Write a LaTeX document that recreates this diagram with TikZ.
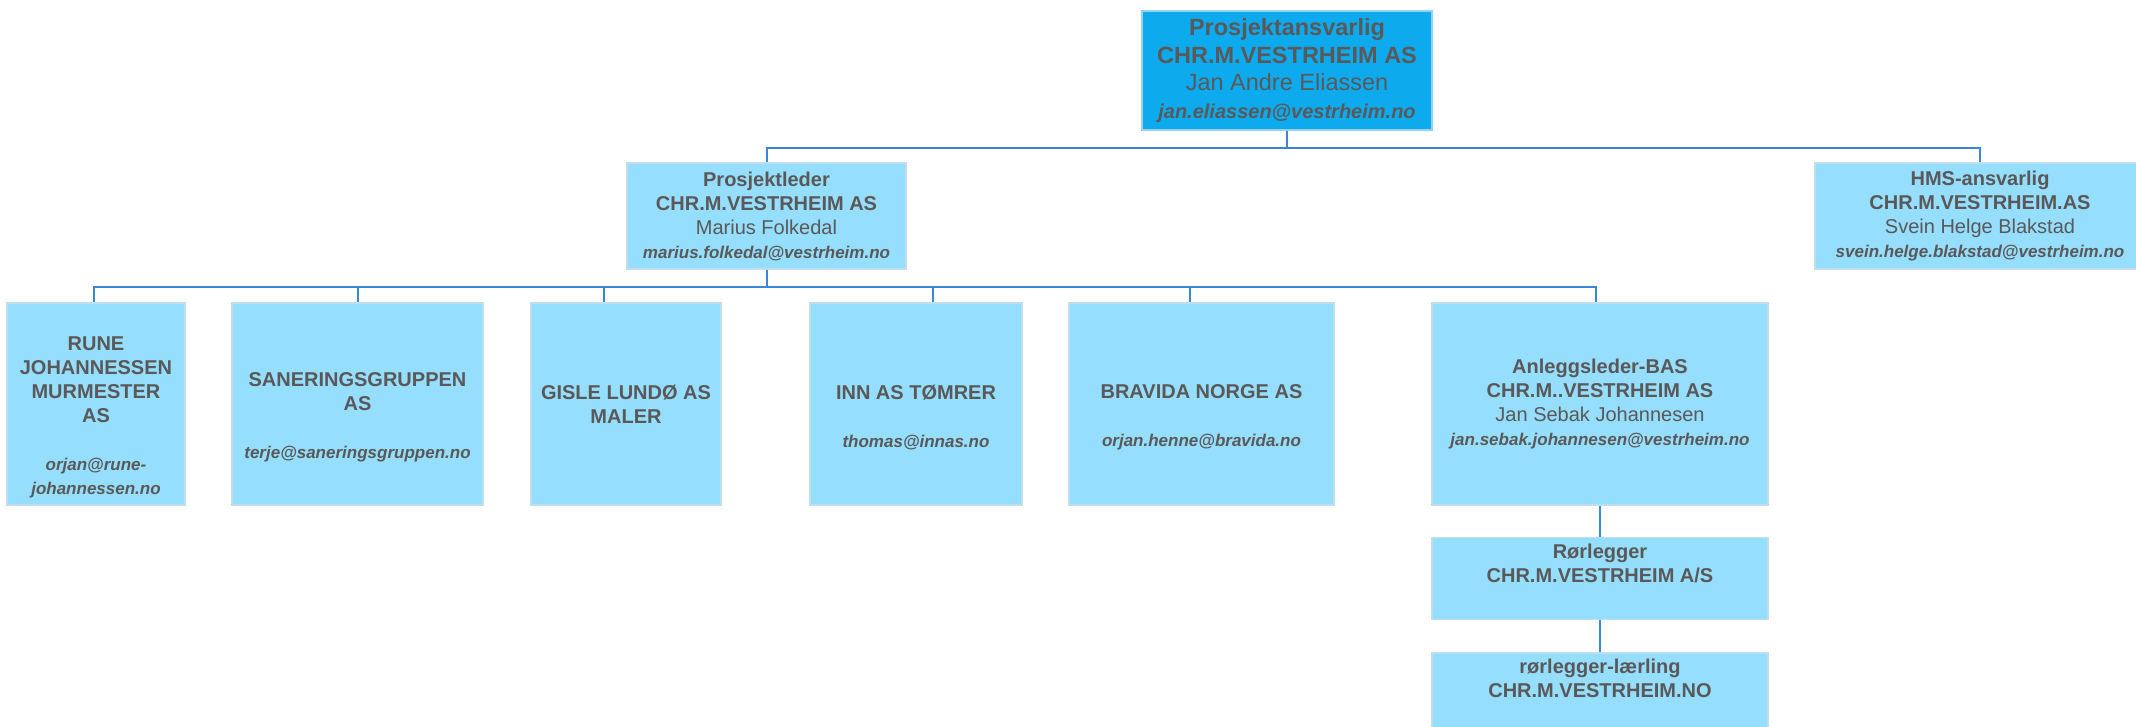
\documentclass[tikz,border=0pt]{standalone}
\usepackage{fontspec}
\setmainfont{Liberation Sans}
\usetikzlibrary{positioning}
\definecolor{b1}{RGB}{13,171,238}
\definecolor{b2}{RGB}{149,222,254}
\definecolor{e1}{RGB}{150,210,240}
\definecolor{e2}{RGB}{190,222,238}
\definecolor{l1}{RGB}{58,134,216}
\definecolor{t1}{RGB}{90,88,88}
\newcommand\epost[2][17]{{\fontsize{#1}{#1}\selectfont\bfseries\itshape #2}}
\newcommand\navn[1]{{\mdseries #1}}

\begin{document}
\begin{tikzpicture}[
    x=1pt, y=-1pt,
    every node/.style={
        align=center, text=t1, inner sep=0pt
    },
    kort/.style={
        rectangle, fill=b2, draw=e2, line width=1.5pt,
        font=\fontsize{20}{24}\selectfont\bfseries
    },
    sjef/.style={
        kort, fill=b1, draw=e1,
        minimum width=290pt, minimum height=119pt,
        font=\fontsize{23.5}{27.7}\selectfont\bfseries
    },
    leder/.style={
        kort, minimum height=106pt
    },
    fag/.style={
        kort, minimum height=202pt
    },
    ledd/.style={
        kort, minimum width=336pt, minimum height=82pt
    },
    drop/.style={
        to path={(\tikztostart) -- ++(0,17.5) -| (\tikztotarget)}
    },
    every edge/.append style={
        draw=l1, line width=2pt
    }
]
    \useasboundingbox (0,0) rectangle (2136,727);

    \node (ansvarlig) [sjef] at (1287,70.5)
        {Prosjektansvarlig\\CHR.M.VESTRHEIM AS\\\navn{Jan Andre Eliassen}\\\epost[20]{jan.eliassen@vestrheim.no}};

    \node (prosjektleder) [leder, minimum width=279pt] at (766.5,216)
        {Prosjektleder\\CHR.M.VESTRHEIM AS\\\navn{Marius Folkedal}\\\epost{marius.folkedal@vestrheim.no}};
    \node (hms) [leder, minimum width=330pt] at (1980,216)
        {HMS-ansvarlig\\CHR.M.VESTRHEIM.AS\\\navn{Svein Helge Blakstad}\\\epost{svein.helge.blakstad@vestrheim.no}};

    \node (rune) [fag, minimum width=178pt] at (96,404)
        {\strut\\RUNE\\JOHANNESSEN\\MURMESTER\\AS\\\strut\\\epost{orjan@rune-}\\\epost{johannessen.no}};
    \node (sanering) [fag, minimum width=251pt] at (357.5,404)
        {\strut\\SANERINGSGRUPPEN\\AS\\\strut\\\epost{terje@saneringsgruppen.no}};
    \node (gisle) [fag, minimum width=190pt] at (626,404)
        {GISLE LUNDØ AS\\MALER};
    \node (inn) [fag, minimum width=212pt] at (916,404)
        {\strut\\INN AS TØMRER\\\strut\\\epost{thomas@innas.no}};
    \node (bravida) [fag, minimum width=265pt] at (1201.5,404)
        {\strut\\BRAVIDA NORGE AS\\\strut\\\epost{orjan.henne@bravida.no}};
    \node (anlegg) [fag, minimum width=336pt] at (1600,404)
        {Anleggsleder-BAS\\CHR.M..VESTRHEIM AS\\\navn{Jan Sebak Johannesen}\\\epost{jan.sebak.johannesen@vestrheim.no}};

    \node (rorlegger) [ledd, below=31pt of anlegg]
        {Rørlegger\\CHR.M.VESTRHEIM A/S\\\strut};
    \node (laerling) [ledd, below=32pt of rorlegger]
        {rørlegger-lærling\\CHR.M.VESTRHEIM.NO\\\strut};

    \draw (ansvarlig.south)
        edge [drop] (prosjektleder.north)
        edge [drop] (hms.north);

    \draw (prosjektleder.south)
        edge [drop] ([xshift=-2pt]rune.north)
        edge [drop] (sanering.north)
        edge [drop] ([xshift=-22pt]gisle.north)
        edge [drop] ([xshift=17pt]inn.north)
        edge [drop] ([xshift=-12pt]bravida.north)
        edge [drop] ([xshift=-4pt]anlegg.north);

    \draw (anlegg)
        edge (rorlegger);

    \draw (rorlegger)
        edge (laerling);

\end{tikzpicture}
\end{document}
